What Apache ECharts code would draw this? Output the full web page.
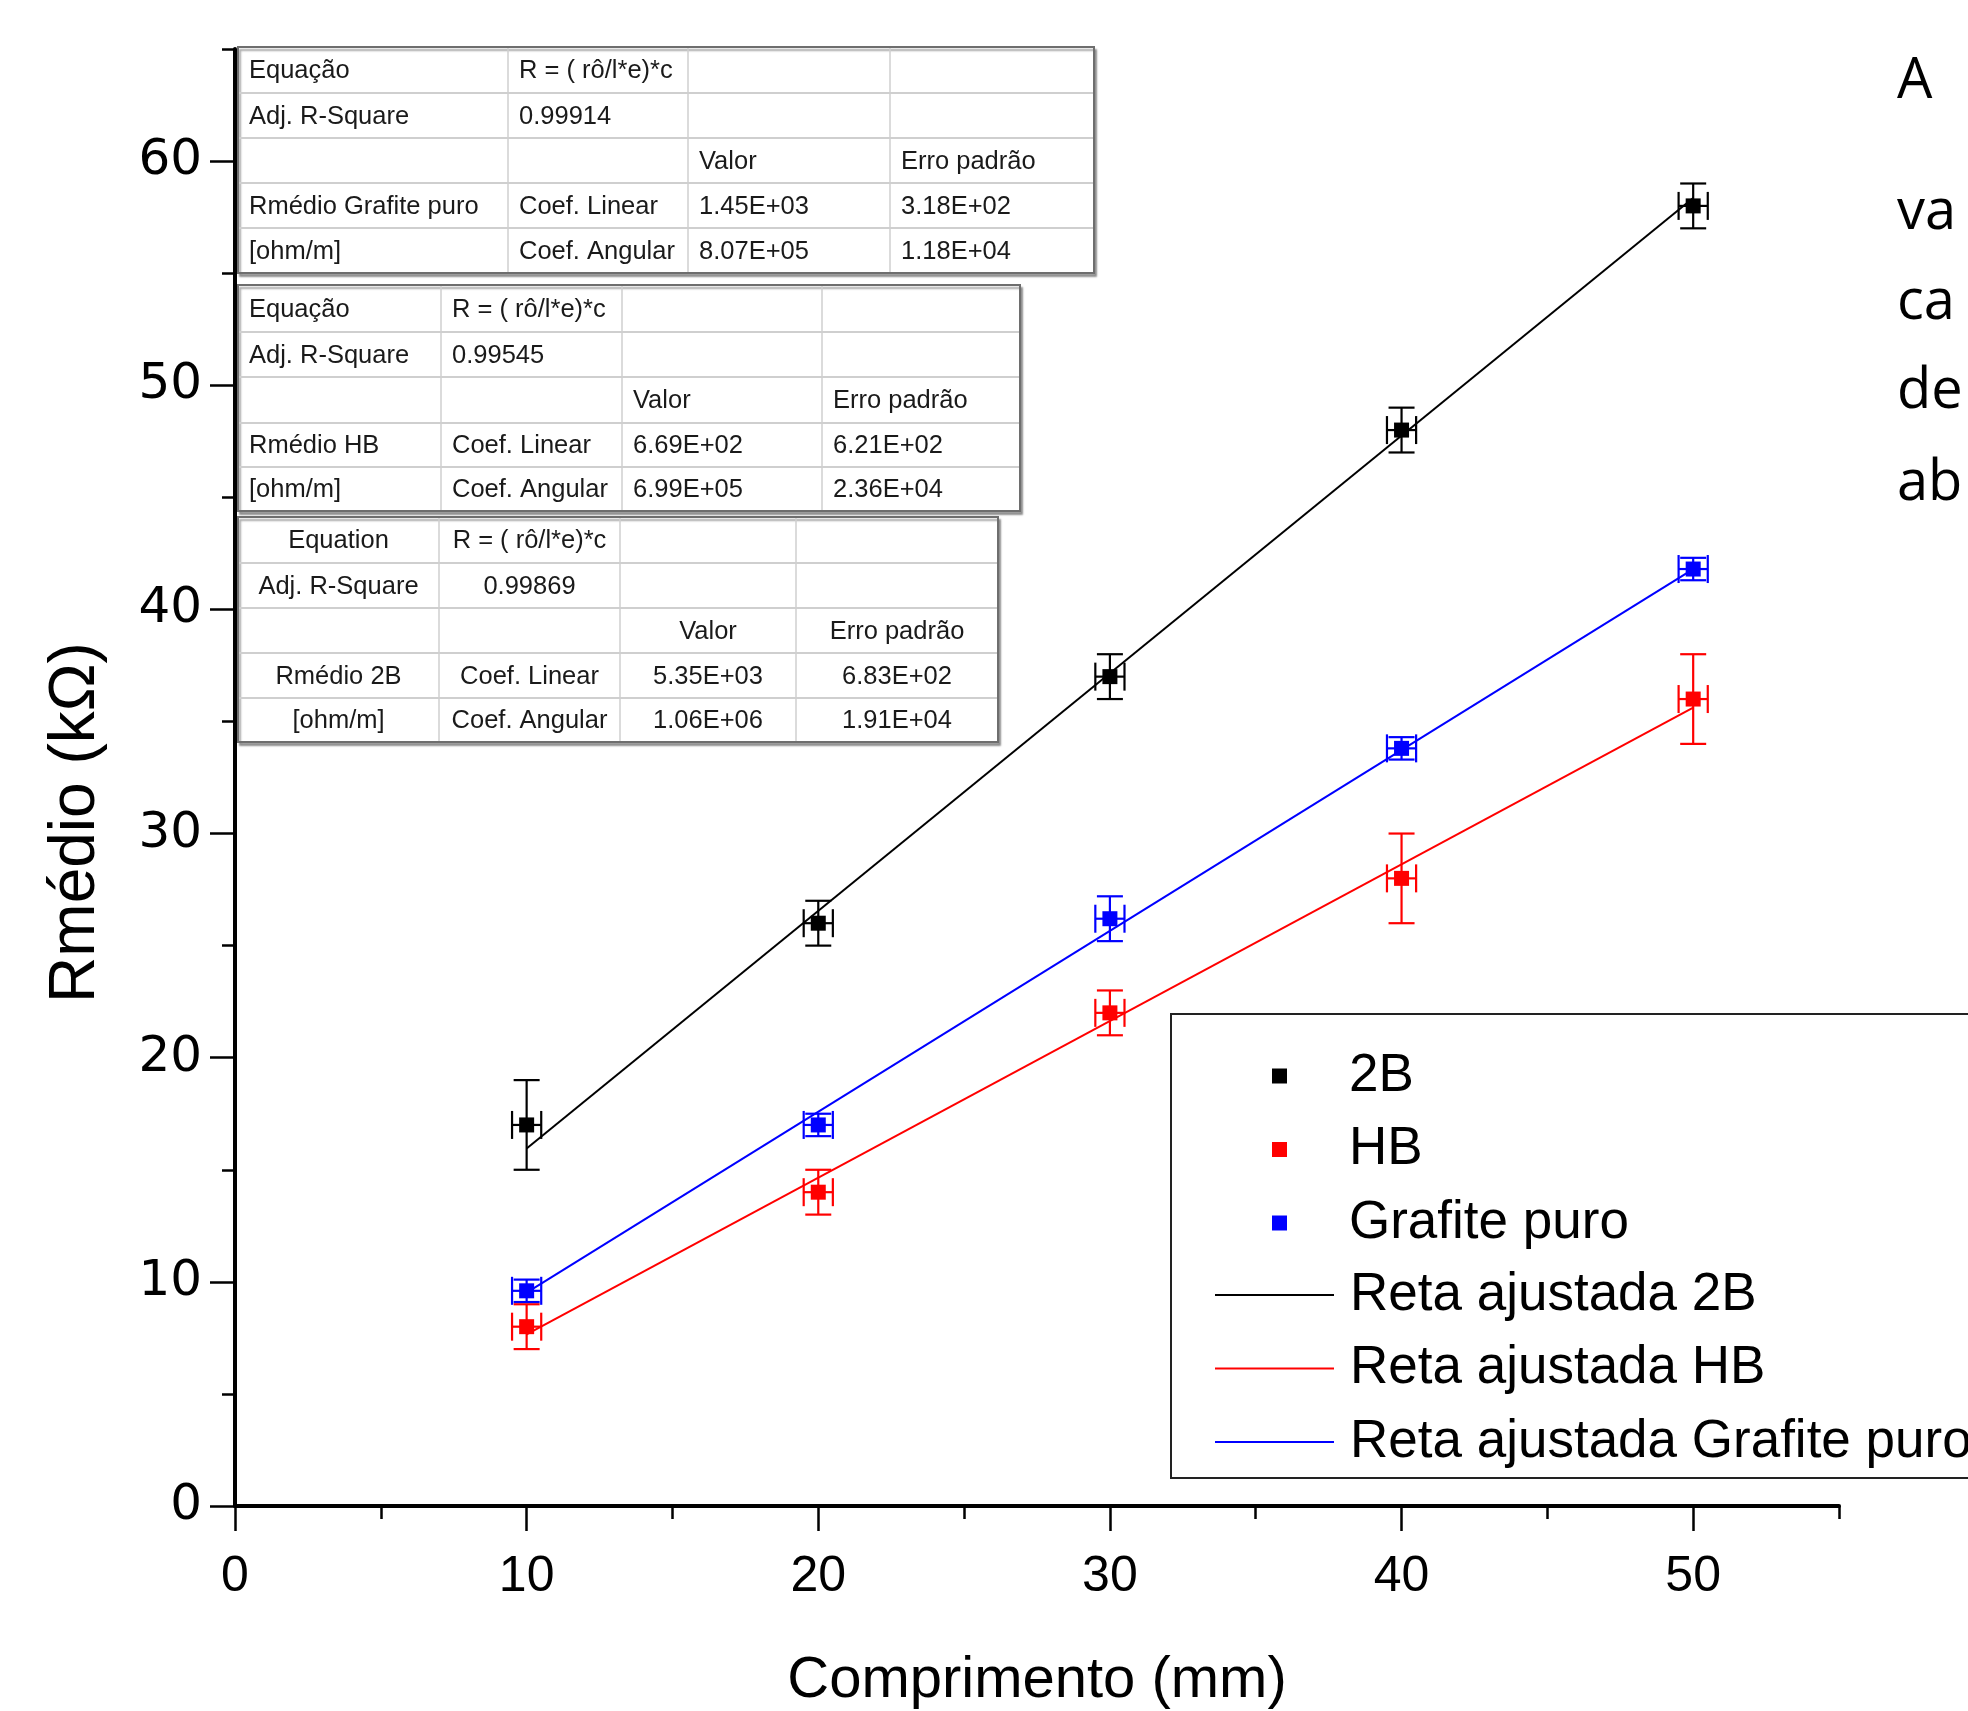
<!DOCTYPE html>
<html>
<head>
<meta charset="utf-8">
<script src="https://cdn.jsdelivr.net/npm/echarts@6/dist/echarts.min.js"></script>
<style>
  html, body { margin: 0; padding: 0; background: #fff; }
  #chart { width: 1968px; height: 1711px; }
</style>
</head>
<body>
<div id="chart"></div>
<script>
// comprimento (mm) and Rmédio (kΩ)
const comprimento = [10, 20, 30, 40, 50];
const errComprimento = [0.5, 0.5, 0.5, 0.5, 0.5];

const r2B = [17, 26, 37, 48, 58];
const err2B = [2, 1, 1, 1, 1];
const rHB = [8, 14, 22, 28, 36];
const errHB = [1, 1, 1, 2, 2];
const rGrafite = [9.6, 17, 26.2, 33.8, 41.8];
const errGrafite = [0.5, 0.5, 1, 0.5, 0.5];

// fitted lines, end points at 10 and 50 mm
const fit2B = [[10, 15.95], [50, 58.35]];
const fitHB = [[10, 7.66], [50, 35.62]];
const fitGrafite = [[10, 9.52], [50, 41.8]];

const xTicks = [0, 10, 20, 30, 40, 50];
const yTicks = [0, 10, 20, 30, 40, 50, 60];

const scatterNames = ['2B', 'HB', 'Grafite puro'];
const lineNames = ['Reta ajustada 2B', 'Reta ajustada HB', 'Reta ajustada Grafite puro'];

// fit result tables
const tableGrafite = [
  ['Equação', 'R = ( rô/l*e)*c', '', ''],
  ['Adj. R-Square', '0.99914', '', ''],
  ['', '', 'Valor', 'Erro padrão'],
  ['Rmédio Grafite puro', 'Coef. Linear', '1.45E+03', '3.18E+02'],
  ['[ohm/m]', 'Coef. Angular', '8.07E+05', '1.18E+04']
];
const tableHB = [
  ['Equação', 'R = ( rô/l*e)*c', '', ''],
  ['Adj. R-Square', '0.99545', '', ''],
  ['', '', 'Valor', 'Erro padrão'],
  ['Rmédio HB', 'Coef. Linear', '6.69E+02', '6.21E+02'],
  ['[ohm/m]', 'Coef. Angular', '6.99E+05', '2.36E+04']
];
const table2B = [
  ['Equation', 'R = ( rô/l*e)*c', '', ''],
  ['Adj. R-Square', '0.99869', '', ''],
  ['', '', 'Valor', 'Erro padrão'],
  ['Rmédio 2B', 'Coef. Linear', '5.35E+03', '6.83E+02'],
  ['[ohm/m]', 'Coef. Angular', '1.06E+06', '1.91E+04']
];

const sideWords = ['A', 'va', 'ca', 'de', 'ab'];

const BLACK = '#000000';
const RED = '#ff0000';
const BLUE = '#0000ff';

const chart = echarts.init(document.getElementById('chart'));

const errData = (ys, errs) => comprimento.map((x, i) => [x, ys[i], errs[i], errComprimento[i]]);
const pts = (ys) => comprimento.map((x, i) => [x, ys[i]]);

const errorBars = (name, color, ys, errs) => ({
  type: 'custom',
  name: name + ' err',
  xAxisIndex: 0,
  yAxisIndex: 0,
  data: errData(ys, errs),
  z: 3,
  silent: true,
  renderItem: (params, api) => {
    const x = api.value(0), y = api.value(1), ey = api.value(2), ex = api.value(3);
    const top = api.coord([x, y + ey]);
    const bot = api.coord([x, y - ey]);
    const lft = api.coord([x - ex, y]);
    const rgt = api.coord([x + ex, y]);
    const cw = 13, ch = 14;
    const st = { stroke: color, lineWidth: 2.2 };
    const ln = (x1, y1, x2, y2) => ({ type: 'line', shape: { x1, y1, x2, y2 }, style: st });
    return {
      type: 'group',
      children: [
        ln(top[0], top[1], bot[0], bot[1]),
        ln(top[0] - cw, top[1], top[0] + cw, top[1]),
        ln(bot[0] - cw, bot[1], bot[0] + cw, bot[1]),
        ln(lft[0], lft[1], rgt[0], rgt[1]),
        ln(lft[0], lft[1] - ch, lft[0], lft[1] + ch),
        ln(rgt[0], rgt[1] - ch, rgt[0], rgt[1] + ch)
      ]
    };
  }
});

const scatter = (name, color, ys) => ({
  type: 'scatter',
  name: name,
  xAxisIndex: 0,
  yAxisIndex: 0,
  data: pts(ys),
  symbol: 'rect',
  symbolSize: 15,
  itemStyle: { color: color, opacity: 1 },
  z: 4
});

const fitLine = (name, color, data) => ({
  type: 'line',
  name: name,
  xAxisIndex: 0,
  yAxisIndex: 0,
  data: data,
  symbol: 'none',
  showSymbol: false,
  lineStyle: { color: color, width: 2 },
  itemStyle: { color: color },
  z: 2
});

function buildTable(rows, cols, rowYs, align) {
  const els = [];
  const x0 = cols[0], x1 = cols[cols.length - 1];
  const y0 = rowYs[0], y1 = rowYs[rowYs.length - 1];
  els.push({
    type: 'rect',
    shape: { x: x0, y: y0, width: x1 - x0, height: y1 - y0 },
    style: { fill: '#fff', stroke: '#6e6e6e', lineWidth: 2, shadowColor: 'rgba(0,0,0,0.35)', shadowOffsetX: 2, shadowOffsetY: 3, shadowBlur: 2 },
    z: 10
  });
  for (let r = 1; r < rowYs.length - 1; r++) {
    els.push({ type: 'line', shape: { x1: x0 + 1, y1: rowYs[r], x2: x1 - 1, y2: rowYs[r] }, style: { stroke: '#cfcfcf', lineWidth: 2 }, z: 11 });
  }
  for (let c = 1; c < cols.length - 1; c++) {
    els.push({ type: 'line', shape: { x1: cols[c], y1: y0 + 1, x2: cols[c], y2: y1 - 1 }, style: { stroke: '#cfcfcf', lineWidth: 1.5 }, z: 11 });
  }
  rows.forEach((row, r) => {
    row.forEach((txt, c) => {
      if (!txt) return;
      const cx = align === 'center' ? (cols[c] + cols[c + 1]) / 2 : cols[c] + 11;
      els.push({
        type: 'text',
        x: cx,
        y: (rowYs[r] + rowYs[r + 1]) / 2 + 1,
        style: {
          text: txt,
          fill: '#1a1a1a',
          font: '25.5px "Liberation Sans", Arial, sans-serif',
          align: align === 'center' ? 'center' : 'left',
          verticalAlign: 'middle'
        },
        z: 12
      });
    });
  });
  return els;
}

const graphics = []
  .concat(buildTable(tableGrafite, [238, 508, 688, 890, 1094], [47, 93, 138, 183, 228, 273], 'left'))
  .concat(buildTable(tableHB, [238, 441, 622, 822, 1020], [285, 332, 377, 423, 467, 511], 'left'))
  .concat(buildTable(table2B, [238, 439, 620, 796, 998], [517, 563, 608, 653, 698, 742], 'center'));

// legend frame
graphics.push({
  type: 'rect',
  shape: { x: 1171, y: 1014, width: 840, height: 464 },
  style: { fill: '#fff', stroke: '#222', lineWidth: 2 },
  z: 1
});

// cut-off text at the right margin
const sideBaselines = [100, 231, 321, 410, 502];
sideWords.forEach((w, i) => {
  graphics.push({
    type: 'text',
    x: 1897,
    y: sideBaselines[i] - 18,
    style: { text: w, fill: '#000', font: '56px "Open Sans", "Noto Sans", sans-serif', verticalAlign: 'middle' },
    z: 12
  });
});

const labelStyle = { color: '#000' };

const option = {
  backgroundColor: '#fff',
  animation: false,
  grid: { left: 235, right: 129, top: 49, bottom: 205, containLabel: false, outerBoundsMode: 'none' },
  xAxis: [
    {
      type: 'value',
      min: 0, max: 55, interval: 10,
      position: 'bottom',
      name: 'Comprimento (mm)',
      nameLocation: 'middle',
      nameGap: 146,
      nameTextStyle: { fontSize: 58, fontFamily: '"Liberation Sans", Arial, sans-serif', color: '#000' },
      axisLine: { show: true, onZero: false, lineStyle: { color: '#000', width: 4 } },
      axisTick: { show: true, inside: false, length: 25, lineStyle: { color: '#000', width: 2.5 }, customValues: xTicks },
      axisLabel: { ...labelStyle, fontSize: 50, fontFamily: '"Liberation Sans", Arial, sans-serif', margin: 46, customValues: xTicks },
      splitLine: { show: false }
    },
    {
      type: 'value',
      min: 0, max: 55, interval: 5,
      position: 'bottom',
      axisLine: { show: false },
      axisTick: { show: true, length: 13, lineStyle: { color: '#000', width: 2.5 } },
      axisLabel: { show: false },
      splitLine: { show: false }
    }
  ],
  yAxis: [
    {
      type: 'value',
      min: 0, max: 65, interval: 10,
      position: 'left',
      name: 'Rmédio (kΩ)',
      nameLocation: 'middle',
      nameGap: 127,
      nameTextStyle: { fontSize: 64, fontFamily: '"Liberation Sans", Arial, sans-serif', color: '#000', padding: [0, 90, 0, 0] },
      axisLine: { show: true, onZero: false, lineStyle: { color: '#000', width: 4 } },
      axisTick: { show: true, inside: false, length: 25, lineStyle: { color: '#000', width: 2.5 }, customValues: yTicks },
      axisLabel: { ...labelStyle, fontSize: 50, fontFamily: '"DejaVu Sans", sans-serif', margin: 33, customValues: yTicks },
      splitLine: { show: false }
    },
    {
      type: 'value',
      min: 0, max: 65, interval: 5,
      position: 'left',
      axisLine: { show: false },
      axisTick: { show: true, length: 13, lineStyle: { color: '#000', width: 2.5 } },
      axisLabel: { show: false },
      splitLine: { show: false }
    }
  ],
  legend: [
    {
      data: scatterNames,
      orient: 'vertical',
      left: 1267,
      top: 1041,
      itemWidth: 15,
      itemHeight: 15,
      itemGap: 13.5,
      icon: 'rect',
      selectedMode: false,
      textStyle: { fontSize: 53, fontFamily: '"Liberation Sans", Arial, sans-serif', color: '#000', lineHeight: 60, padding: [0, 0, 0, 57] }
    },
    {
      data: lineNames,
      orient: 'vertical',
      left: 1210,
      top: 1260,
      itemWidth: 119,
      itemHeight: 2,
      itemGap: 13.5,
      icon: 'rect',
      selectedMode: false,
      textStyle: { fontSize: 53, fontFamily: '"Liberation Sans", Arial, sans-serif', color: '#000', lineHeight: 60, padding: [0, 0, 0, 11] }
    }
  ],
  graphic: graphics,
  series: [
    fitLine(lineNames[0], BLACK, fit2B),
    fitLine(lineNames[1], RED, fitHB),
    fitLine(lineNames[2], BLUE, fitGrafite),
    errorBars('2B', BLACK, r2B, err2B),
    errorBars('HB', RED, rHB, errHB),
    errorBars('Grafite puro', BLUE, rGrafite, errGrafite),
    scatter(scatterNames[0], BLACK, r2B),
    scatter(scatterNames[1], RED, rHB),
    scatter(scatterNames[2], BLUE, rGrafite)
  ]
};

chart.setOption(option);
</script>
</body>
</html>
